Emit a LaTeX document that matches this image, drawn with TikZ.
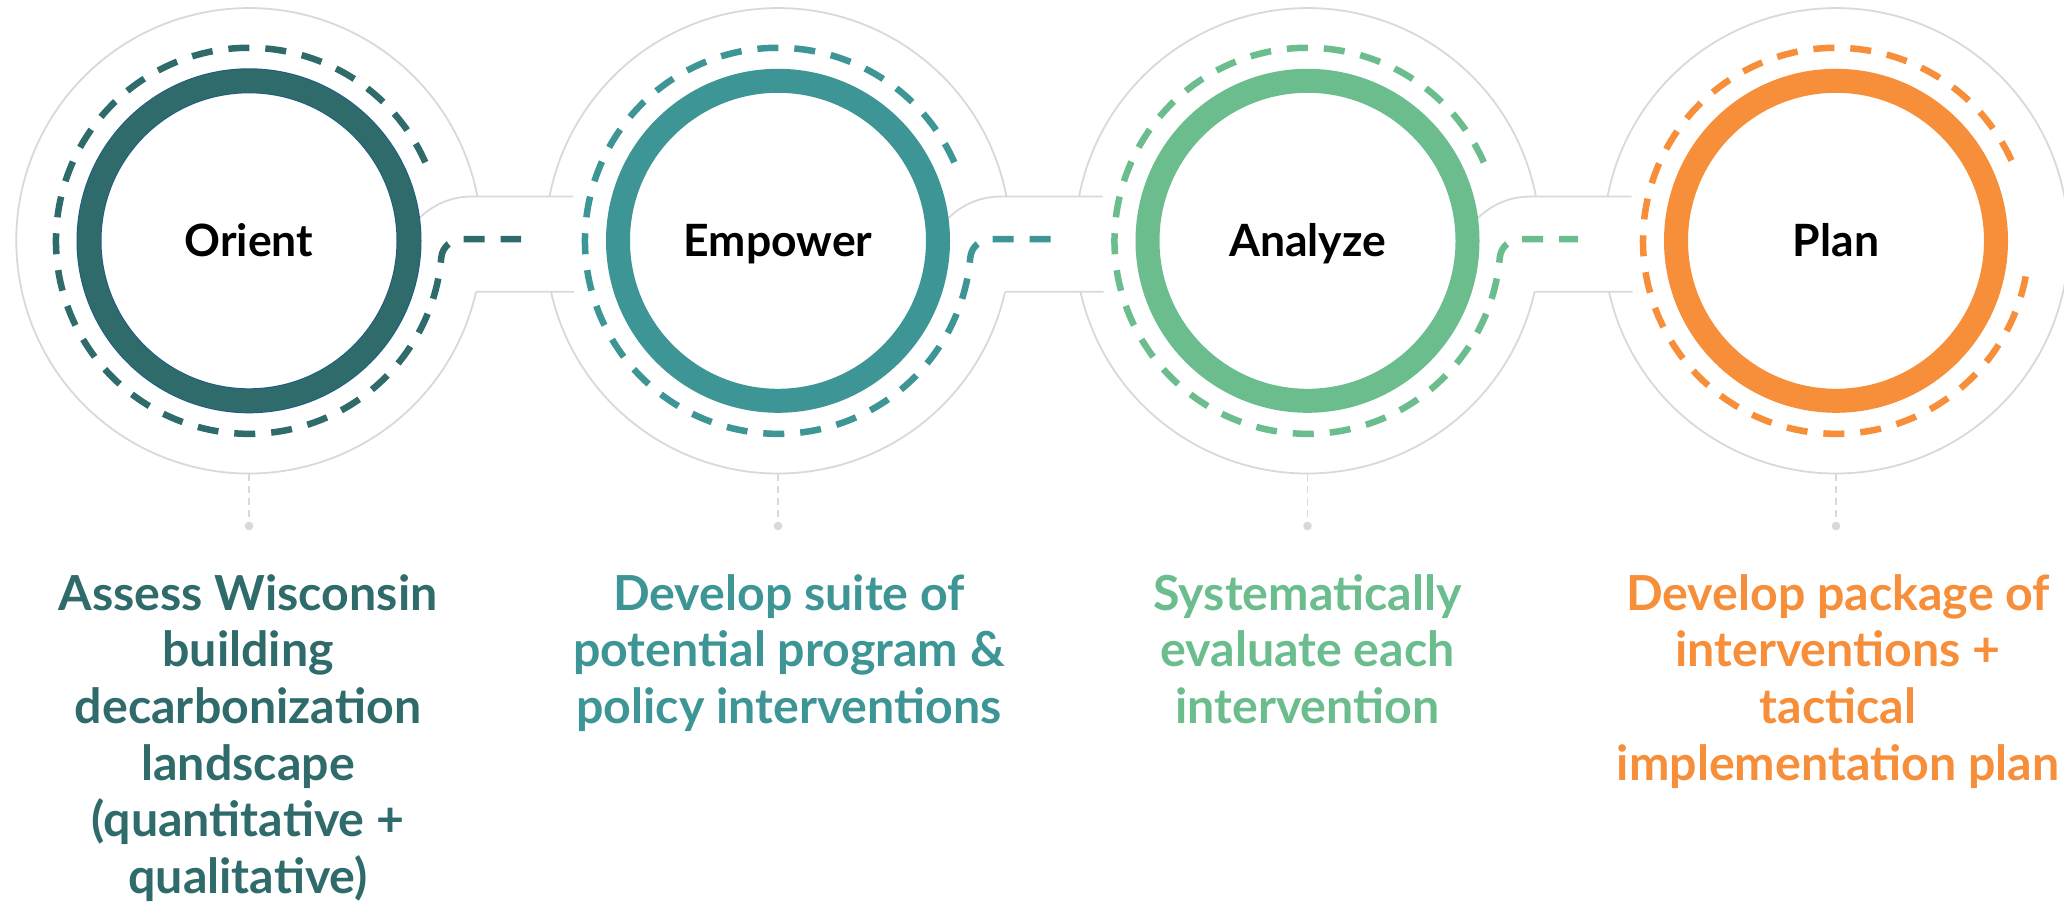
\documentclass[tikz,border=0pt]{standalone}
\usepackage{fontspec}
\setmainfont{Lato}
\definecolor{cA}{HTML}{2E6B6A}
\definecolor{cAedge}{HTML}{1E5C86}
\definecolor{cB}{HTML}{3E9595}
\definecolor{cC}{HTML}{6BBD8E}
\definecolor{cD}{HTML}{F68E3A}
\definecolor{greyc}{HTML}{D9D9D9}
\begin{document}
\begin{tikzpicture}[x=1pt,y=1pt,
  greyline/.style={draw=greyc, line width=1.8},
  dashpath/.style={line width=6.5, dash pattern=on 21 off 16},
  ringline/.style={line width=24},
  lbl/.style={font=\fontsize{44.5}{44.5}\selectfont\bfseries, anchor=base, inner sep=0, text=black},
  desc/.style={font=\fontsize{48.3}{56.7}\selectfont\bfseries, anchor=base, inner sep=0},
  stem/.style={draw=greyc, line width=1.5, dash pattern=on 7 off 5}]
\useasboundingbox (0,0) rectangle (2064,-904);
\clip (0,0) rectangle (2064,-904);
\fill[white] (0,0) rectangle (2064,-904);
% centres
\coordinate (c1) at (249,-240.8);
\coordinate (c2) at (778,-240.8);
\coordinate (c3) at (1307.5,-240.8);
\coordinate (c4) at (1836,-240.8);
% grey outer circles
\draw[greyline] (c1) ++(10.97:232.7) arc[start angle=10.97, end angle=347.36, radius=232.7];
\draw[greyline] (c2) ++(10.97:232.7) arc[start angle=10.97, end angle=169.03, radius=232.7];
\draw[greyline] (c2) ++(192.64:232.7) arc[start angle=192.64, end angle=347.36, radius=232.7];
\draw[greyline] (c3) ++(10.97:232.7) arc[start angle=10.97, end angle=169.03, radius=232.7];
\draw[greyline] (c3) ++(192.64:232.7) arc[start angle=192.64, end angle=347.36, radius=232.7];
\draw[greyline] (c4) ++(192.64:232.7) arc[start angle=192.64, end angle=529.03, radius=232.7];
% tubes
\draw[greyline] (c1) ++(7.6:172) arc[start angle=135, end angle=90, radius=73.4] -- (573,-196.5);
\draw[greyline] (c1) ++(-12.64:232.7) -- (574,-291.7);
\draw[greyline] (c2) ++(7.6:172) arc[start angle=135, end angle=90, radius=73.4] -- (1102.5,-196.5);
\draw[greyline] (c2) ++(-12.64:232.7) -- (1103.5,-291.7);
\draw[greyline] (c3) ++(7.6:172) arc[start angle=135, end angle=90, radius=73.4] -- (1631.5,-196.5);
\draw[greyline] (c3) ++(-12.64:232.7) -- (1632.5,-291.7);
% stems and dots
\foreach \c/\x in {1/249,2/778,3/1307.5,4/1836}{
  \draw[stem] (\x,-473.5) -- (\x,-522);
  \fill[greyc] (\x,-526) circle[radius=4.3];
}
% dashed paths
\draw[dashpath, draw=cA] (c1) ++(24:193) arc[start angle=24, end angle=355, radius=193]
   to[out=85,in=180] ++(22,18.6) -- (521,-239);
\draw[dashpath, draw=cB] (c2) ++(24:193) arc[start angle=24, end angle=355, radius=193]
   to[out=85,in=180] ++(22,18.6) -- (1058,-239);
\draw[dashpath, draw=cC] (c3) ++(24:193) arc[start angle=24, end angle=355, radius=193]
   to[out=85,in=180] ++(22,18.6) -- (1578,-239);
\draw[dashpath, draw=cD] (c4) ++(24.6:193) arc[start angle=24.6, end angle=354, radius=193];
% rings
\draw[line width=25, draw=cAedge] (c1) circle[radius=160];
\draw[line width=23, draw=cA] (c1) circle[radius=160];
\draw[ringline, draw=cB] (c2) circle[radius=160];
\draw[ringline, draw=cC] (c3) circle[radius=160];
\draw[ringline, draw=cD] (c4) circle[radius=160];
% labels
\node[lbl] (l1) at (249,-256.5) {Orient};
\node[lbl] (l2) at (778,-256.5) {Empower};
\node[lbl] (l3) at (1307.5,-256.5) {Analyze};
\node[lbl] (l4) at (1836,-256.5) {Plan};
% descriptions
\foreach \t [count=\k] in {{Assess Wisconsin},{building},{decarbonization},{landscape},{(quantitative +},{qualitative)}}
  \node[desc, text=cA] (dA\k) at (248,-610-56.7*\k+56.7) {\t};
\foreach \t [count=\k] in {{Develop suite of},{potential program \&},{policy interventions}}
  \node[desc, text=cB] (dB\k) at (789,-610-56.7*\k+56.7) {\t};
\foreach \t [count=\k] in {{Systematically},{evaluate each},{intervention}}
  \node[desc, text=cC] (dC\k) at (1307.5,-610-56.7*\k+56.7) {\t};
\foreach \t [count=\k] in {{Develop package of},{interventions +},{tactical},{implementation plan}}
  \node[desc, text=cD] (dD\k) at (1838,-610-56.7*\k+56.7) {\t};
\end{tikzpicture}
\end{document}
